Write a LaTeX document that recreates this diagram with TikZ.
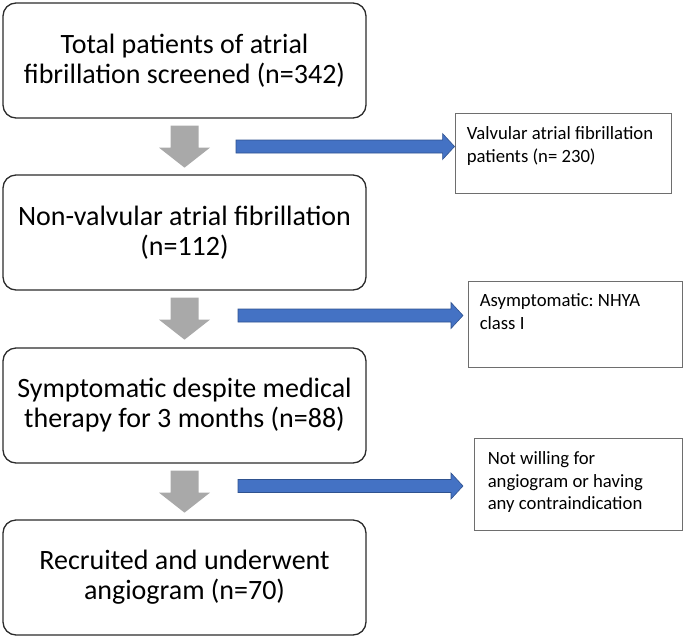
\documentclass[tikz,border=0pt]{standalone}
\usepackage{fontspec}
\setmainfont{Carlito}
\usetikzlibrary{calc}
\frenchspacing
\definecolor{boxline}{HTML}{2B2B2B}
\definecolor{arrgray}{HTML}{A9A9A9}
\definecolor{arrblue}{HTML}{4472C4}
\definecolor{arrblueline}{HTML}{2F528F}
\definecolor{sideline}{HTML}{6E6E6E}
\tikzset{
  mainbox/.style={draw=boxline, line width=1.3pt, rounded corners=13pt, minimum width=363pt, minimum height=115pt, inner sep=0pt, align=center, font=\fontsize{28}{30}\selectfont},
  sidebox/.style={draw=sideline, line width=0.9pt, inner sep=0pt},
  sidetext/.style={anchor=north west, inner sep=0pt, align=left, font=\fontsize{18.7}{22.5}\selectfont},
  grayarr/.style={fill=arrgray},
  bluearr/.style={fill=arrblue, draw=arrblueline, line width=0.6pt},
  downarr/.pic={\fill[grayarr] (-14,0) -- (14,0) -- (14,22) -- (25.5,22) -- (0,42) -- (-25.5,22) -- (-14,22) -- cycle;}
}
\newcommand\bluearrow[2]{\filldraw[bluearr] ($(#1)+(0,-6.5)$) -- ($(#2)+(-12,-6.5)$) -- ($(#2)+(-12,-13)$) -- (#2) -- ($(#2)+(-12,13)$) -- ($(#2)+(-12,6.5)$) -- ($(#1)+(0,6.5)$) -- cycle;}
\begin{document}
\begin{tikzpicture}[x=1pt,y=-1pt]
\useasboundingbox (0,0) rectangle (685,638);
\node[mainbox] (b1) at (184.5,60.5) {Total patients of atrial\\fibrillation screened (n=342)};
\node[mainbox] (b2) at (184.5,232.5) {Non-valvular atrial fibrillation\\(n=112)};
\node[mainbox] (b3) at (184.5,405.5) {Symptomatic despite medical\\therapy for 3 months (n=88)};
\node[mainbox] (b4) at (184.5,577.5) {Recruited and underwent\\angiogram (n=70)};
\pic at ($(b1.south)+(0,7)$) {downarr};
\pic at ($(b2.south)+(0,7)$) {downarr};
\pic at ($(b3.south)+(0,7)$) {downarr};
\node[sidebox, minimum width=216pt, minimum height=80pt] (r1) at (563,153) {};
\node[sidebox, minimum width=214pt, minimum height=86pt] (r2) at (575,324) {};
\node[sidebox, minimum width=208pt, minimum height=92pt] (r3) at (578,484) {};
\node[sidetext] (t1) at ($(r1.north west)+(12,14)$) {Valvular atrial fibrillation\\patients (n= 230)};
\node[sidetext] (t2) at ($(r2.north west)+(12,13)$) {Asymptomatic: NHYA\\class I};
\node[sidetext] (t3) at ($(r3.north west)+(14,14)$) {Not willing for\\angiogram or having\\any contraindication};
\coordinate (s1) at (236,146.5);
\coordinate (e1) at (r1.west |- s1);
\coordinate (s2) at (238,315.5);
\coordinate (e2) at (463,315.5);
\coordinate (s3) at (238,486);
\coordinate (e3) at (463,486);
\bluearrow{s1}{e1}
\bluearrow{s2}{e2}
\bluearrow{s3}{e3}
\end{tikzpicture}
\end{document}
